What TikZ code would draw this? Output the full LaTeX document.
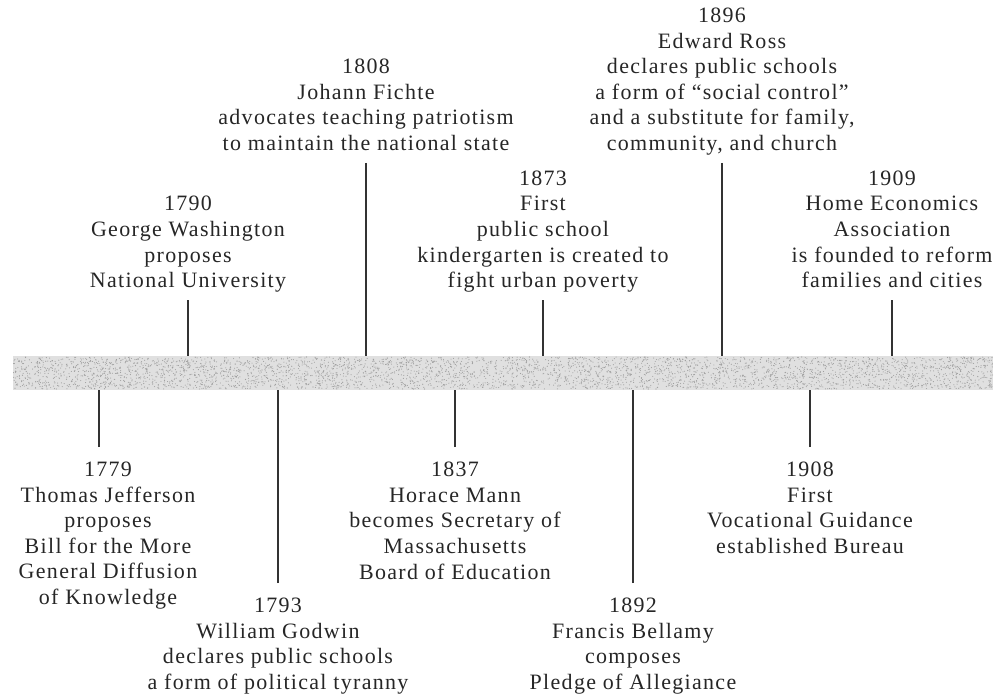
\documentclass[tikz,border=0pt]{standalone}
\usepackage{fontspec}
\setmainfont{Liberation Serif}[LetterSpace=6]
\usepackage{tikz}
\usetikzlibrary{positioning}
\tikzset{bar/.style = {fill=gray!24, inner sep=0pt,
                  minimum width=19.6cm, minimum height=0.68cm},
        tick/.style = {line width=1pt, black!80},
        event/.style = {inner sep=0pt, align=center, text=black!85,
                  font=\fontsize{12.5}{14.6}\selectfont}
    }

\begin{document}
\begin{tikzpicture}[x=0.02cm, y=-0.02cm]
          \tikzstyle{dot} = [gray!75]
          \useasboundingbox (0,0) rectangle (998,696);

          % the time line
          \node[bar] (bar) at (503,373) {};
          \pgfmathsetseed{17}
          \foreach \i in {1,...,4200} {
            \fill[dot] ({13+980*rnd},{357+32*rnd}) circle (0.011cm);
          }

          % events above the bar
          \foreach \nm/\x/\y/\txt in {
              1790/188/300/{1790\\George Washington\\proposes\\National University},
              1808/366/163/{1808\\Johann Fichte\\advocates teaching patriotism\\to maintain the national state},
              1873/543/300/{1873\\First\\public school\\kindergarten is created to\\fight urban poverty},
              1896/722/163/{1896\\Edward Ross\\declares public schools\\a form of “social control”\\and a substitute for family,\\community, and church},
              1909/892/300/{1909\\Home Economics\\Association\\is founded to reform\\families and cities}} {
            \coordinate (k\nm) at (\x,\y);
            \draw[tick] (k\nm) -- (k\nm |- bar.north);
            \node[event, text depth=0pt, above=0.24cm of k\nm] (e\nm) {\txt};
          }

          % events below the bar
          \foreach \nm/\x/\y/\dx/\txt in {
              1779/99/447/9/{1779\\Thomas Jefferson\\proposes\\Bill for the More\\General Diffusion\\of Knowledge},
              1793/278/583/0/{1793\\William Godwin\\declares public schools\\a form of political tyranny},
              1837/455/447/0/{1837\\Horace Mann\\becomes Secretary of\\Massachusetts\\Board of Education},
              1892/633/583/0/{1892\\Francis Bellamy\\composes\\Pledge of Allegiance},
              1908/810/447/0/{1908\\First\\Vocational Guidance\\established Bureau}} {
            \coordinate (k\nm) at (\x,\y);
            \draw[tick] (k\nm) -- (k\nm |- bar.south);
            \node[event, below=0.29cm of k\nm, xshift=\dx*0.02cm] (e\nm) {\txt};
          }
        \end{tikzpicture}
\end{document}
